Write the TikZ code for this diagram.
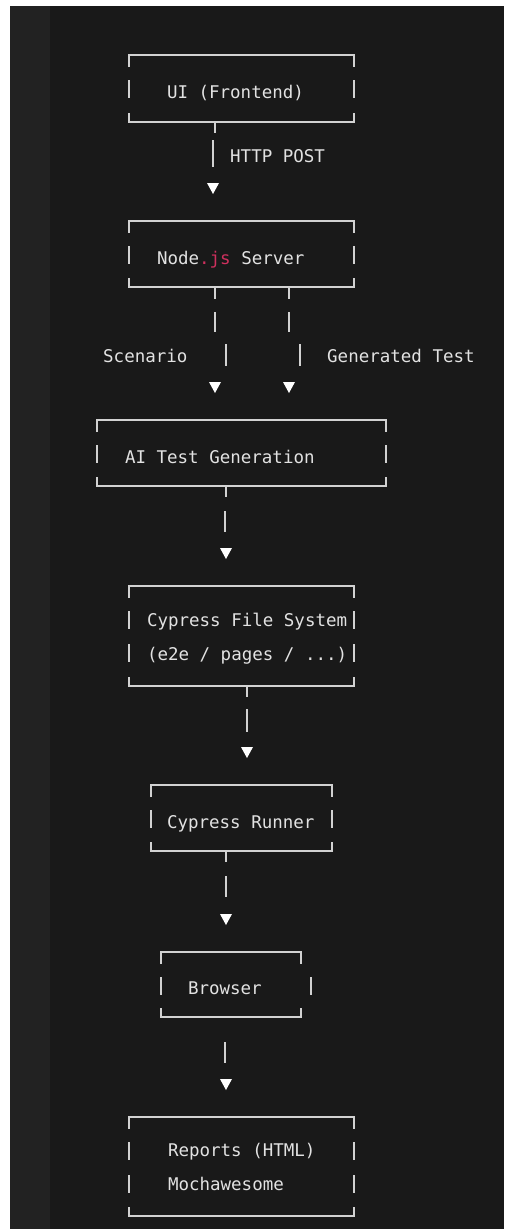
\documentclass[tikz,border=0pt]{standalone}
\usepackage{fontspec}
\setmonofont{DejaVu Sans Mono}
\usetikzlibrary{arrows.meta}

\definecolor{pagebg}{HTML}{191919}
\definecolor{gutterbg}{HTML}{222222}
\definecolor{asciiline}{HTML}{D2D2D2}
\definecolor{asciitext}{HTML}{E2E2E2}
\definecolor{jscol}{HTML}{D0305E}

\newcommand\asciiframe[3][0]{%
  \draw[frameline] ([yshift=-12pt]#2.north west) -- (#2.north west) -- (#2.north east) -- ([yshift=-12pt]#2.north east);
  \draw[frameline] ([yshift=9pt]#2.south west) -- (#2.south west) -- (#2.south east) -- ([yshift=9pt]#2.south east);
  \foreach \k in {1,...,#3} {
    \draw[frameline] ([yshift={-33pt*\k+8pt}]#2.north west) -- ++(0,18);
    \draw[frameline] ([xshift=#1pt, yshift={-33pt*\k+8pt}]#2.north east) -- ++(0,18);
  }%
}

\begin{document}
\begin{tikzpicture}
        [x=1pt, y=-1pt,
         frameline/.style={draw=asciiline, line width=1.6pt},
         box/.style={inner sep=0pt, outer sep=0pt, align=left, text=asciitext, font=\ttfamily\fontsize{17.5}{34}\selectfont},
         boxsize/.style 2 args={minimum width=#1pt, text width=#1pt, minimum height=#2pt},
         boxpad/.style={execute at begin node={\leftskip=#1pt\spaceskip=0pt\xspaceskip=0pt\relax}},
         oneline/.style={text height=22pt, text depth=1.2pt},
         twoline/.style={text height=13pt, text depth=32.2pt},
         link/.style={draw=asciiline, line width=1.8pt, shorten >=27pt, -{Triangle[width=12pt, length=11pt, line width=0pt, color=white]}},
         lbl/.style={inner sep=0pt, text=asciitext, font=\ttfamily\fontsize{17.5}{34}\selectfont}]

        \useasboundingbox (0,0) rectangle (504,1229);
        \fill[white] (0,0) rectangle (504,1229);
        \fill[pagebg] (10,6) rectangle (504,1229);
        \fill[gutterbg] (10,6) rectangle (50,1229);

        \node[box, boxsize={225}{67}, boxpad=38, oneline] (ui) at (241.5,88.5) {UI (Frontend)};
        \node[box, boxsize={225}{66}, boxpad=28, oneline] (srv) at (241.5,254) {Node{\color{jscol}.js} Server};
        \node[box, boxsize={289}{66}, boxpad=28, oneline] (ai) at (241.5,453) {AI Test Generation};
        \node[box, boxsize={225}{100}, boxpad=18, twoline] (cfs) at (241.5,636) {Cypress File System\\(e2e / pages / ...)};
        \node[box, boxsize={181}{66}, boxpad=16, oneline] (runner) at (241.5,818) {Cypress Runner};
        \node[box, boxsize={140}{65}, boxpad=27, oneline] (browser) at (231,984.5) {Browser};
        \node[box, boxsize={225}{99}, boxpad=39, twoline] (reports) at (241.5,1166.5) {Reports (HTML)\\Mochawesome};

        \asciiframe{ui}{1}
        \asciiframe{srv}{1}
        \asciiframe{ai}{1}
        \asciiframe{cfs}{2}
        \asciiframe{runner}{1}
        \asciiframe[10]{browser}{1}
        \asciiframe{reports}{2}

        \draw[link] ([xshift=-26.5pt]ui.south) -- ++(0,11) ++(-2,7) -- ++(0,27) ++(0,16) -- ([xshift=-28.5pt]srv.north);
        \draw[link] ([xshift=-26.5pt]srv.south) -- ++(0,12) ++(0,13) -- ++(0,20) ++(11,12) -- ++(0,22) ++(-11,17) -- ([xshift=-26.5pt]ai.north);
        \draw[link] ([xshift=47.5pt]srv.south) -- ++(0,12) ++(0,13) -- ++(0,20) ++(11,12) -- ++(0,22) ++(-11,17) -- ([xshift=47.5pt]ai.north);
        \draw[link] ([xshift=-15.5pt]ai.south) -- ++(0,11) ++(-1,14) -- ++(0,21) ++(1,16) -- ([xshift=-15.5pt]cfs.north);
        \draw[link] ([xshift=5.5pt]cfs.south) -- ++(0,11) ++(0,12) -- ++(0,23) ++(0,15) -- ([xshift=5.5pt]runner.north);
        \draw[link] ([xshift=-15.5pt]runner.south) -- ++(0,11) ++(0,14) -- ++(0,21) ++(0,17) -- ([xshift=-5pt]browser.north);
        \draw[link] ([xshift=-6pt]browser.south) ++(0,25) -- ++(0,21) ++(1,16) -- ([xshift=-15.5pt]reports.north);

        \node[lbl, anchor=base west] (httppost) at (230,162) {HTTP POST};
        \node[lbl, anchor=base west] (scenario) at (103,362) {Scenario};
        \node[lbl, anchor=base west] (gentest) at (327,362) {Generated Test};

    \end{tikzpicture}
\end{document}
